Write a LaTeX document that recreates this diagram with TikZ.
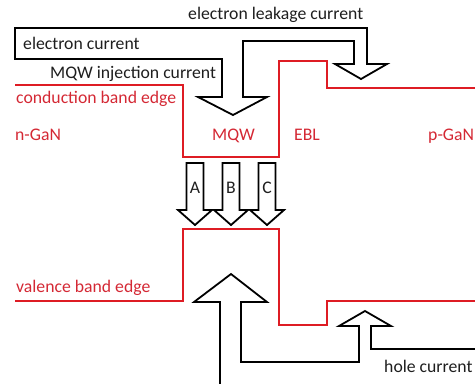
\documentclass[tikz,border=0pt]{standalone}
\usepackage{fontspec}
\setmainfont{Carlito}
\definecolor{bandred}{RGB}{222,28,36}
\definecolor{txtred}{RGB}{212,40,52}
\definecolor{txtblk}{RGB}{30,30,30}
\tikzset{
  band/.style={draw=bandred, line width=1.8bp, line join=miter},
  flow/.style={draw=black, line width=1.8bp, line join=miter},
  lbl/.style={anchor=base west, inner sep=0pt, text=txtblk, font=\fontsize{17.7bp}{20bp}\selectfont},
  rlbl/.style={lbl, text=txtred},
  abc/.style={anchor=base, inner sep=0pt, text=txtblk, font=\fontsize{17.7bp}{20bp}\selectfont}
}
\begin{document}
\begin{tikzpicture}[x=1bp,y=-1bp]
\useasboundingbox (0,0) rectangle (475,383);
% conduction band edge
\draw[band] (15,85) -- (183,85) -- (183,157) -- (279,157) -- (279,61) -- (327,61) -- (327,88) -- (476,88);
% valence band edge
\draw[band] (15,301) -- (183,301) -- (183,229) -- (279,229) -- (279,325) -- (327,325) -- (327,301) -- (476,301);
% electron current arrows
\draw[flow] (15,28) -- (367,28) -- (367,64) -- (387,64) -- (361,79) -- (335,64) -- (354,64) -- (354,41) -- (243,41) -- (243,97) -- (267,97) -- (233,115) -- (198,97) -- (222,97) -- (222,59) -- (15,59) -- cycle;
% A B C arrows
\foreach \cx/\nm in {195/A,231/B,267/C}{
  \draw[flow] (\cx-8.5,163) -- (\cx+8.5,163) -- (\cx+8.5,210) -- (\cx+17,210) -- (\cx,225) -- (\cx-17,210) -- (\cx-8.5,210) -- cycle;
  \node[abc] (lab\nm) at (\cx,193) {\nm};
}
% hole current arrows
\draw[flow] (220,384) -- (220,302) -- (194,302) -- (231,274) -- (267,302) -- (241,302) -- (241,362) -- (359,362) -- (359,326) -- (339,326) -- (365,311) -- (391,326) -- (371,326) -- (371,349) -- (476,349);
% labels
\node[lbl] (leak) at (188,19) {electron leakage current};
\node[lbl] (ecur) at (23,49) {electron current};
\node[lbl] (inj) at (50,78) {MQW injection current};
\node[rlbl] (cbe) at (16,103) {conduction band edge};
\node[rlbl] (ngan) at (15,140) {n-GaN};
\node[rlbl] (mqw) at (212,140) {MQW};
\node[rlbl] (ebl) at (294,140) {EBL};
\node[rlbl] (pgan) at (428,140) {p-GaN};
\node[rlbl] (vbe) at (16,292) {valence band edge};
\node[lbl] (hole) at (384,372) {hole current};
\end{tikzpicture}
\end{document}
